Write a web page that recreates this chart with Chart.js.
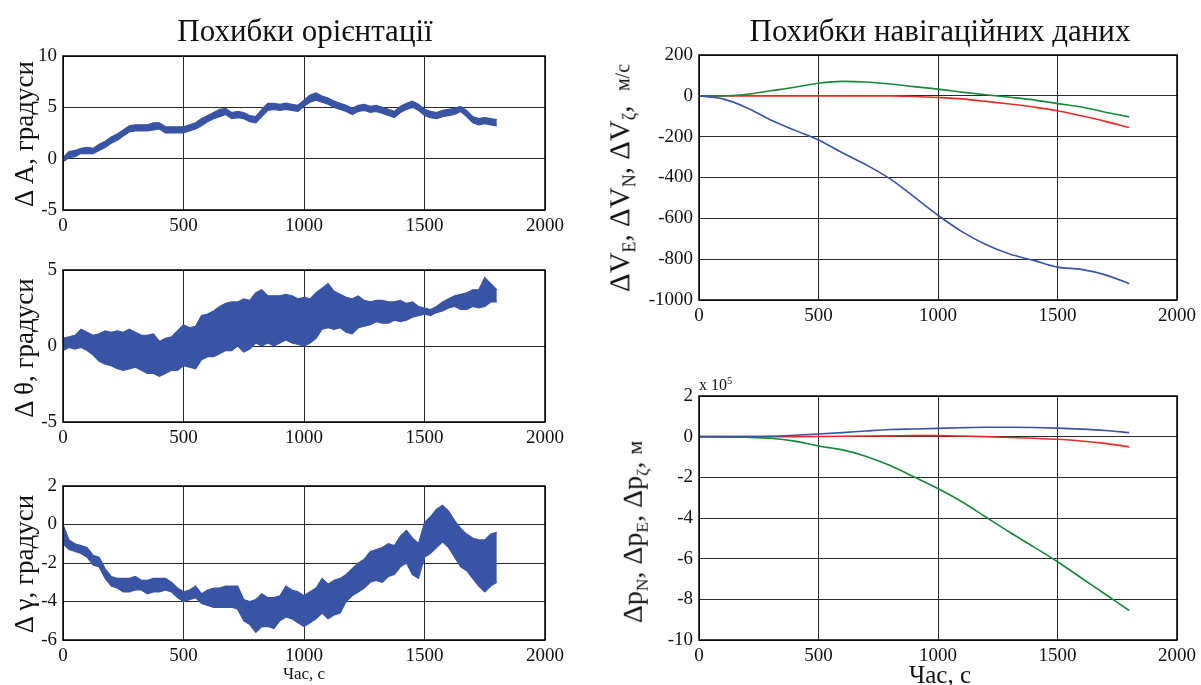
<!DOCTYPE html>
<html>
<head>
<meta charset="utf-8">
<script src="https://cdn.jsdelivr.net/npm/chart.js@4/dist/chart.umd.min.js"></script>
<style>
  html, body { margin: 0; padding: 0; background: #fff; }
  #stage { position: relative; width: 1201px; height: 685px; overflow: hidden; background: #fff;
           font-family: 'Liberation Serif', 'Times New Roman', serif; color: #111; }
  canvas { position: absolute; left: 0; top: 0; }
  .txt { position: absolute; white-space: nowrap; line-height: 1; }
  .rot { transform: translate(-50%, -50%) rotate(-90deg); }
  .ctr { transform: translate(-50%, -50%); }
  sub { font-size: 62%; vertical-align: -0.35em; }
  sup { font-size: 65%; vertical-align: 0.55em; }
</style>
</head>
<body>
<div id="stage">
  <canvas id="c1" width="1201" height="685"></canvas>
  <canvas id="c2" width="1201" height="685"></canvas>
  <canvas id="c3" width="1201" height="685"></canvas>
  <canvas id="c4" width="1201" height="685"></canvas>
  <canvas id="c5" width="1201" height="685"></canvas>

  <div class="txt ctr" style="left:305px; top:30px; font-size:31px;">Похибки орієнтації</div>
  <div class="txt ctr" style="left:940px; top:30px; font-size:31px;">Похибки навігаційних даних</div>

  <div class="txt rot" style="left:24px; top:134px; font-size:27px;">Δ A, градуси</div>
  <div class="txt rot" style="left:24px; top:348px; font-size:27px;">Δ θ, градуси</div>
  <div class="txt rot" style="left:24px; top:564px; font-size:27px;">Δ γ, градуси</div>

  <div class="txt rot" style="left:622px; top:178px; font-size:29px;">ΔV<sub>E</sub>, ΔV<sub>N</sub>, ΔV<sub>ζ</sub>, &nbsp;<span style="font-size:20px">м/с</span></div>
  <div class="txt rot" style="left:635px; top:532px; font-size:28px;">Δp<sub>N</sub>, Δp<sub>E</sub>, Δp<sub>ζ</sub>, <span style="font-size:22px">м</span></div>

  <div class="txt" style="left:699px; top:376px; font-size:16px;">x 10<sup>5</sup></div>

  <div class="txt ctr" style="left:304px; top:673px; font-size:17px;">Час, с</div>
  <div class="txt ctr" style="left:940px; top:674px; font-size:25px;">Час, с</div>
</div>
<script>
// ---------- DATA ----------
const tAtt = [0,25,50,75,100,125,150,175,200,225,
  250,275,300,325,350,375,400,425,450,475,
  500,525,550,575,600,625,650,675,700,725,
  750,775,800,825,850,875,900,925,950,975,
  1000,1025,1050,1075,1100,1125,1150,1175,1200,1225,
  1250,1275,1300,1325,1350,1375,1400,1425,1450,1475,
  1500,1525,1550,1575,1600,1625,1650,1675,1700,1725,
  1750,1775,1800];

const dA_hi = [0.1,0.7,0.8,1.0,1.1,1.0,1.4,1.7,2.1,2.4,
  2.8,3.2,3.3,3.3,3.3,3.5,3.5,3.1,3.1,3.1,
  3.1,3.3,3.5,3.9,4.2,4.5,4.8,4.9,4.5,4.6,
  4.5,4.2,4.1,4.8,5.4,5.4,5.3,5.4,5.3,5.2,
  5.7,6.2,6.4,6.1,5.9,5.6,5.4,5.2,4.9,5.2,
  5.3,5.1,5.2,5.0,4.8,4.6,5.1,5.4,5.6,5.3,
  4.8,4.6,4.5,4.7,4.8,4.9,5.1,4.7,4.1,3.9,
  4.0,3.9,3.8];
const dA_lo = [-0.3,0.1,0.2,0.5,0.5,0.5,0.8,1.1,1.5,1.8,
  2.2,2.6,2.7,2.7,2.7,2.8,2.9,2.5,2.5,2.5,
  2.5,2.7,2.9,3.2,3.6,3.9,4.1,4.3,3.9,4.0,
  3.9,3.6,3.5,4.1,4.7,4.8,4.7,4.8,4.7,4.6,
  5.1,5.5,5.7,5.5,5.3,5.0,4.8,4.6,4.3,4.6,
  4.7,4.5,4.6,4.4,4.2,4.0,4.5,4.8,5.0,4.7,
  4.2,4.0,3.9,4.1,4.2,4.3,4.6,4.1,3.5,3.3,
  3.4,3.3,3.2];

const dTheta_hi = [0.5,0.6,0.7,1.1,0.9,0.7,0.8,1.0,0.9,1.0,
  0.9,1.1,0.9,0.7,0.7,0.8,0.3,0.5,0.6,1.0,
  1.4,1.2,1.3,2.0,2.1,2.3,2.6,2.8,2.9,2.9,
  3.1,3.0,3.5,3.7,3.3,3.3,3.3,3.4,3.3,3.1,
  3.2,3.1,3.5,3.8,4.1,3.6,3.4,3.2,3.1,3.3,
  3.0,2.9,3.0,3.0,2.9,2.9,3.0,2.8,2.9,2.6,
  2.5,2.4,2.6,2.9,3.1,3.3,3.4,3.5,3.7,3.7,
  4.5,4.1,3.7];
const dTheta_lo = [-0.3,-0.1,-0.2,-0.1,-0.3,-0.6,-1.0,-1.2,-1.3,-1.5,
  -1.6,-1.5,-1.4,-1.6,-1.8,-1.8,-2.0,-1.8,-1.6,-1.6,
  -1.3,-1.4,-1.5,-0.9,-0.7,-0.7,-0.5,-0.3,-0.3,0.0,
  -0.4,-0.2,0.2,0.0,0.2,0.0,0.2,0.4,0.2,0.1,
  0.0,0.2,0.5,1.1,1.2,1.1,1.2,0.9,0.8,1.2,
  1.3,1.4,1.6,1.5,1.5,1.7,1.6,1.7,1.9,2.0,
  2.1,2.0,2.2,2.3,2.5,2.6,2.4,2.4,2.6,2.5,
  2.6,2.9,2.9];

const dGamma_hi = [0.0,-0.8,-1.0,-1.1,-1.2,-1.6,-1.7,-2.3,-2.7,-2.8,
  -2.8,-2.8,-2.7,-2.9,-2.9,-2.8,-2.8,-2.8,-3.0,-3.3,
  -3.5,-3.4,-3.2,-3.6,-3.4,-3.3,-3.3,-3.2,-3.2,-3.2,
  -3.9,-4.0,-3.9,-3.6,-3.8,-3.8,-3.7,-3.2,-3.4,-3.5,
  -3.7,-3.5,-3.3,-2.8,-3.1,-2.9,-2.8,-2.6,-2.3,-2.0,
  -1.8,-1.4,-1.3,-1.2,-1.0,-1.1,-0.6,-0.3,-0.7,-1.0,
  0.1,0.4,0.8,1.0,0.7,0.2,-0.2,-0.5,-0.7,-0.8,
  -0.8,-0.5,-0.4];
const dGamma_lo = [-1.0,-1.3,-1.4,-1.5,-1.7,-2.1,-2.2,-2.8,-3.2,-3.3,
  -3.5,-3.5,-3.4,-3.4,-3.6,-3.5,-3.5,-3.4,-3.5,-3.8,
  -4.0,-3.9,-3.8,-4.1,-4.2,-4.3,-4.3,-4.3,-4.3,-4.4,
  -5.0,-5.2,-5.6,-5.3,-5.3,-5.4,-5.0,-4.8,-4.9,-5.1,
  -5.3,-5.1,-4.9,-4.6,-4.9,-4.7,-4.6,-4.0,-3.7,-3.5,
  -3.3,-3.0,-2.9,-3.0,-2.7,-2.6,-2.2,-2.0,-2.6,-2.8,
  -1.7,-1.5,-1.2,-0.9,-1.2,-1.7,-2.2,-2.4,-2.8,-3.2,
  -3.5,-3.2,-3.0];

const tNav = [0,100,200,300,400,500,600,700,800,900,1000,1100,1200,1300,1400,1500,1600,1700,1800];
const vBlue  = [0,-15,-58,-118,-168,-216,-279,-338,-407,-495,-585,-665,-728,-775,-806,-839,-850,-877,-920];
const vGreen = [0,0,8,25,42,62,71,68,58,45,33,18,5,-7,-20,-38,-55,-80,-103];
const vRed   = [0,0,0,0,0,0,0,0,0,-3,-8,-15,-27,-40,-55,-73,-98,-125,-155];

const pBlue  = [0,0,0,0.02,0.07,0.13,0.2,0.28,0.35,0.38,0.41,0.44,0.46,0.46,0.45,0.42,0.37,0.3,0.2];
const pRed   = [0,0,0,0,0,0.01,0.02,0.03,0.04,0.05,0.05,0.03,0,-0.04,-0.08,-0.13,-0.21,-0.33,-0.5];
const pGreen = [0,-0.01,-0.03,-0.08,-0.22,-0.46,-0.65,-0.97,-1.42,-1.98,-2.55,-3.2,-3.95,-4.7,-5.42,-6.15,-6.95,-7.75,-8.55];

const xTicks = { min: 0, max: 2000, step: 500 };

// ---------- STYLE ----------
const FONT = "'Liberation Serif', 'Times New Roman', serif";
const BLUE = '#3a54a5', GREEN = '#17893b', RED = '#ec2a25';
const W = 1201, H = 685, YW = 60, XH = 30;

const boxPlugin = {
  id: 'box',
  afterDraw(c) {
    const a = c.chartArea, x = c.ctx;
    x.save(); x.strokeStyle = '#000'; x.lineWidth = 1.5;
    x.strokeRect(a.left, a.top, a.right - a.left, a.bottom - a.top);
    x.restore();
  }
};

function pts(t, v) { return t.map((tt, i) => ({ x: tt, y: v[i] })); }

function makeChart(id, area, ymin, ymax, ystep, datasets) {
  new Chart(document.getElementById(id), {
    type: 'line',
    data: { datasets },
    options: {
      responsive: false, animation: false, devicePixelRatio: 1,
      layout: { padding: { left: area.l - YW, top: area.t, right: W - area.r, bottom: H - area.b - XH } },
      plugins: { legend: { display: false }, tooltip: { enabled: false } },
      elements: { point: { radius: 0 } },
      scales: {
        x: {
          type: 'linear', min: xTicks.min, max: xTicks.max,
          afterFit: s => { s.height = XH; },
          ticks: { stepSize: xTicks.step, color: '#111', padding: 5, maxRotation: 0,
                   font: { family: FONT, size: 19 }, callback: v => String(v) },
          grid: { color: '#2a2a2a', lineWidth: 1, drawTicks: false },
          border: { display: false }
        },
        y: {
          type: 'linear', min: ymin, max: ymax,
          afterFit: s => { s.width = YW; },
          ticks: { stepSize: ystep, color: '#111', padding: 6,
                   font: { family: FONT, size: 19 }, callback: v => String(v) },
          grid: { color: '#2a2a2a', lineWidth: 1, drawTicks: false },
          border: { display: false }
        }
      }
    },
    plugins: [boxPlugin]
  });
}

function band(t, hi, lo) {
  return [
    { data: pts(t, hi), borderColor: BLUE, borderWidth: 1.2, backgroundColor: BLUE, fill: false, tension: 0 },
    { data: pts(t, lo), borderColor: BLUE, borderWidth: 1.2, backgroundColor: BLUE, fill: '-1', tension: 0 }
  ];
}
function line(t, v, col) {
  return { data: pts(t, v), borderColor: col, borderWidth: 1.6, fill: false, cubicInterpolationMode: 'monotone' };
}

makeChart('c1', { l: 63, t: 56, r: 545, b: 210 }, -5, 10, 5, band(tAtt, dA_hi, dA_lo));
makeChart('c2', { l: 63, t: 270, r: 545, b: 422 }, -5, 5, 5, band(tAtt, dTheta_hi, dTheta_lo));
makeChart('c3', { l: 63, t: 486, r: 545, b: 640 }, -6, 2, 2, band(tAtt, dGamma_hi, dGamma_lo));
makeChart('c4', { l: 699, t: 55, r: 1181, b: 300 }, -1000, 200, 200,
  [line(tNav, vBlue, BLUE), line(tNav, vGreen, GREEN), line(tNav, vRed, RED)]);
makeChart('c5', { l: 699, t: 396, r: 1181, b: 640 }, -10, 2, 2,
  [line(tNav, pBlue, BLUE), line(tNav, pGreen, GREEN), line(tNav, pRed, RED)]);
</script>
</body>
</html>
